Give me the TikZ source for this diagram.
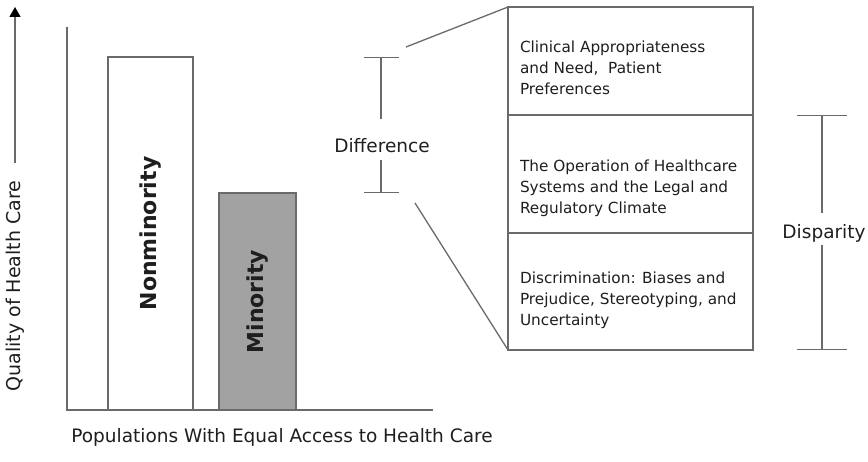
\documentclass[tikz,border=0pt]{standalone}
\usepackage{fontspec}
\setmainfont{DejaVu Sans}
\usepackage{tikz}
\usetikzlibrary{arrows.meta, positioning, calc}
\definecolor{hcline}{HTML}{6A6A6A}
\definecolor{hcbar}{HTML}{A2A2A2}
\definecolor{hctext}{HTML}{1E1E1E}

\begin{document}
\begin{tikzpicture}[
  x=1pt, y=-1pt,
  every node/.style={text=hctext, inner sep=0pt, outer sep=0pt},
  axis/.style={draw=hcline, line width=1.3pt},
  bar/.style={draw=hcline, line width=1.3pt, anchor=south west, minimum width=#1},
  barlabel/.style={rotate=90, font=\fontsize{22}{24}\selectfont\bfseries},
  cell/.style={draw=hcline, line width=1.2pt, anchor=north west, minimum width=245pt},
  celltext/.style={anchor=west, align=left, font=\fontsize{15.3}{21}\selectfont},
  biglabel/.style={font=\fontsize{18.5}{22}\selectfont},
  span/.style={draw=hcline, line width=1.3pt}
]
\useasboundingbox (0,0) rectangle (868,462);

% axes
\coordinate (ytop) at (67,27);
\coordinate (origin) at (67,410);
\coordinate (xend) at (433,410);
\draw[axis] (ytop) -- (origin) -- (xend);

\coordinate (qlow) at (15,163);
\coordinate (qhigh) at (15,7);
\draw[axis, -{Triangle[width=11pt, length=10pt, color=black]}] (qlow) -- (qhigh);
\node[biglabel, rotate=90, font=\fontsize{19}{22}\selectfont] (quality) at (15,286) {Quality of Health Care};
\node[biglabel] (population) at (282,437) {Populations With Equal Access to Health Care};

% bars
\node[bar=85pt, minimum height=353pt, fill=white] (nonmin) at (108,410) {};
\node[bar=77pt, minimum height=217pt, fill=hcbar] (min) at (219,410) {};
\node[barlabel] (nonminlabel) at (nonmin.center) {Nonminority};
\node[barlabel] (minlabel) at (min.center) {Minority};

% difference bracket
\node[biglabel] (diff) at (382,146) {Difference};
\coordinate (dtop) at (381,57);
\coordinate (dbot) at (381,193);
\draw[span, {Bar[width=35pt]}-] (dtop) -- ([yshift=20pt]dtop |- diff.north);
\draw[span, -{Bar[width=35pt]}] ([yshift=-7pt]dbot |- diff.south) -- (dbot);

% cells
\node[cell, minimum height=108pt] (c1) at (508,7) {};
\node[cell, minimum height=118pt] (c2) at (c1.south west) {};
\node[cell, minimum height=117pt] (c3) at (c2.south west) {};
\node[celltext] (t1) at ([xshift=12pt, yshift=-7pt]c1.west)
  {Clinical Appropriateness\\and Need,~ Patient\\Preferences};
\node[celltext] (t2) at ([xshift=12pt, yshift=-14pt]c2.west)
  {The Operation of Healthcare\\Systems and the Legal and\\Regulatory Climate};
\node[celltext] (t3) at ([xshift=12pt, yshift=-9pt]c3.west)
  {Discrimination: Biases and\\Prejudice, Stereotyping, and\\Uncertainty};

% zoom lines
\coordinate (zup) at (406,47);
\coordinate (zdown) at (415,203);
\draw[span] (zup) -- (c1.north west);
\draw[span] (zdown) -- (c3.south west);

% disparity bracket
\node[biglabel] (disp) at (824,233) {Disparity};
\coordinate (ptop) at (822,115);
\coordinate (pbot) at (822,350);
\draw[span, {Bar[width=50pt]}-] (ptop) -- ([yshift=11pt]ptop |- disp.north);
\draw[span, -{Bar[width=50pt]}] ([yshift=-3pt]pbot |- disp.south) -- (pbot);
\end{tikzpicture}
\end{document}
